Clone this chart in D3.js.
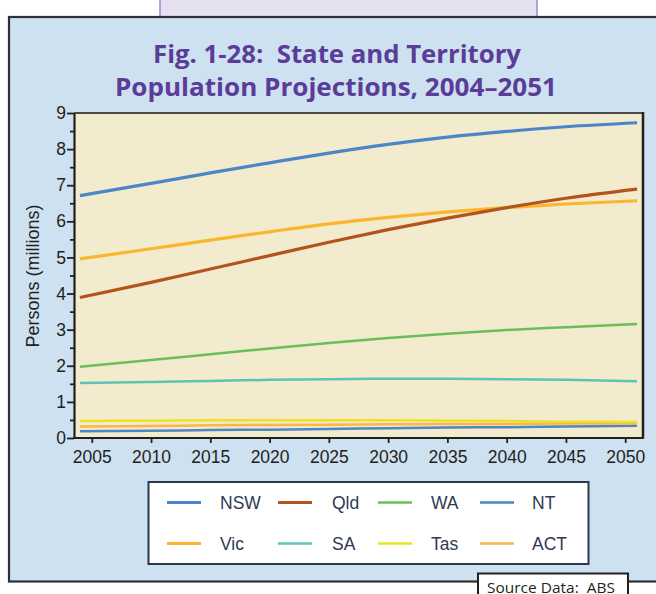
<!DOCTYPE html>
<html lang="en">
<head>
<meta charset="utf-8">
<title>State and Territory Population Projections</title>
<script src="https://cdn.jsdelivr.net/npm/d3@7"></script>
<style>
  body { margin: 0; background: #ffffff; }
  svg { display: block; }
  text { white-space: pre; }
</style>
</head>
<body>
<script>
// Data (persons, millions)
var years = [2004, 2010, 2015, 2020, 2025, 2030, 2035, 2040, 2045, 2051];
var nsw = [6.71, 7.05, 7.34, 7.62, 7.89, 8.13, 8.33, 8.49, 8.62, 8.73];
var vic = [4.96, 5.24, 5.48, 5.71, 5.93, 6.11, 6.26, 6.38, 6.48, 6.57];
var qld = [3.89, 4.31, 4.68, 5.05, 5.42, 5.77, 6.09, 6.38, 6.64, 6.89];
var wa  = [1.97, 2.16, 2.32, 2.48, 2.63, 2.77, 2.89, 2.99, 3.07, 3.16];
var sa  = [1.52, 1.55, 1.58, 1.61, 1.63, 1.64, 1.64, 1.63, 1.61, 1.57];
var tas = [0.47, 0.48, 0.49, 0.49, 0.49, 0.49, 0.48, 0.47, 0.45, 0.44];
var act = [0.32, 0.33, 0.35, 0.36, 0.37, 0.38, 0.39, 0.39, 0.40, 0.40];
var nt  = [0.19, 0.20, 0.22, 0.23, 0.25, 0.27, 0.29, 0.30, 0.32, 0.34];

var xTicks = [2005, 2010, 2015, 2020, 2025, 2030, 2035, 2040, 2045, 2050];
var yTicks = [0, 1, 2, 3, 4, 5, 6, 7, 8, 9];

// legend order: row 1 then row 2
var series = [
  { name: "NSW", values: nsw, color: "#4a86c8", width: 3.2 },
  { name: "Qld", values: qld, color: "#b5531c", width: 3.2 },
  { name: "WA",  values: wa,  color: "#6abf5b", width: 2.5 },
  { name: "NT",  values: nt,  color: "#4a86c8", width: 2.5 },
  { name: "Vic", values: vic, color: "#fbb62e", width: 3.2 },
  { name: "SA",  values: sa,  color: "#5cc4b7", width: 2.5 },
  { name: "Tas", values: tas, color: "#eae224", width: 2.5 },
  { name: "ACT", values: act, color: "#fdb548", width: 2.5 }
];
// drawing order (back to front)
var drawOrder = ["NT", "ACT", "Tas", "SA", "WA", "NSW", "Vic", "Qld"];

var w = 656, h = 594;
var plot = { left: 74, right: 643, top: 113, bottom: 438 };

var svg = d3.select("body").append("svg")
  .attr("width", w)
  .attr("height", h);

// lavender tab at the top
svg.append("rect")
  .attr("x", 160).attr("y", -5).attr("width", 377).attr("height", 22)
  .attr("fill", "#e6e1f1").attr("stroke", "#9d88c6").attr("stroke-width", 1.5);

// outer blue panel
svg.append("rect")
  .attr("x", 9).attr("y", 17).attr("width", 660).attr("height", 564.5)
  .attr("fill", "#cde1f1").attr("stroke", "#2f2f33").attr("stroke-width", 2.2);

// title
var title = svg.append("g")
  .attr("font-family", "'Open Sans', sans-serif")
  .attr("font-weight", "bold")
  .attr("font-size", "25px")
  .attr("fill", "#5b3c98")
  .attr("text-anchor", "middle");
title.append("text").attr("x", 337).attr("y", 63)
  .attr("textLength", 368).attr("lengthAdjust", "spacingAndGlyphs")
  .text("Fig. 1-28:  State and Territory");
title.append("text").attr("x", 336).attr("y", 96)
  .attr("textLength", 442).attr("lengthAdjust", "spacingAndGlyphs")
  .text("Population Projections, 2004\u20132051");

// scales
var xScale = d3.scaleLinear()
  .domain([2003.5, 2051.5])
  .range([plot.left, plot.right]);

var yScale = d3.scaleLinear()
  .domain([0, 9])
  .range([plot.bottom, plot.top]);

// plot background
svg.append("rect")
  .attr("x", plot.left).attr("y", plot.top)
  .attr("width", plot.right - plot.left).attr("height", plot.bottom - plot.top)
  .attr("fill", "#f2ebcd");

// lines
var line = d3.line()
  .x(function(d) { return xScale(d[0]); })
  .y(function(d) { return yScale(d[1]); })
  .curve(d3.curveMonotoneX);

drawOrder.forEach(function(name) {
  var s = series.find(function(d) { return d.name === name; });
  svg.append("path")
    .datum(years.map(function(yr, i) { return [yr, s.values[i]]; }))
    .attr("d", line)
    .attr("fill", "none")
    .attr("stroke", s.color)
    .attr("stroke-width", s.width);
});

// top and right frame
svg.append("line")
  .attr("x1", plot.left).attr("x2", plot.right)
  .attr("y1", plot.top).attr("y2", plot.top)
  .attr("stroke", "#4a4a4a").attr("stroke-width", 2);
svg.append("line")
  .attr("x1", plot.right).attr("x2", plot.right)
  .attr("y1", plot.top - 1).attr("y2", plot.bottom)
  .attr("stroke", "#231f20").attr("stroke-width", 2.5);

// y axis minor ticks (halves)
var yMinor = d3.axisLeft(yScale)
  .tickValues(d3.range(0.5, 9, 1))
  .tickSize(4)
  .tickFormat("");
svg.append("g")
  .attr("transform", "translate(" + plot.left + ",0)")
  .call(yMinor)
  .call(function(g) { g.select(".domain").remove(); })
  .selectAll("line").attr("stroke", "#231f20").attr("stroke-width", 1.8);

// y axis
var yAxis = d3.axisLeft(yScale)
  .tickValues(yTicks)
  .tickSize(7)
  .tickSizeOuter(0)
  .tickPadding(1)
  .tickFormat(d3.format("d"));
var gy = svg.append("g")
  .attr("transform", "translate(" + plot.left + ",0)")
  .call(yAxis);
gy.select(".domain").attr("stroke", "#231f20").attr("stroke-width", 2.2);
gy.selectAll(".tick line").attr("stroke", "#231f20").attr("stroke-width", 1.8);
gy.selectAll(".tick text")
  .attr("font-family", "'Liberation Sans', Arial, sans-serif")
  .attr("font-size", "17.5px")
  .attr("fill", "#231f20");

// x axis
var xAxis = d3.axisBottom(xScale)
  .tickValues(xTicks)
  .tickSize(5)
  .tickSizeOuter(0)
  .tickPadding(8)
  .tickFormat(d3.format("d"));
var gx = svg.append("g")
  .attr("transform", "translate(0," + plot.bottom + ")")
  .call(xAxis);
gx.select(".domain").attr("stroke", "#231f20").attr("stroke-width", 2.2)
  .attr("d", "M" + (plot.left - 1) + ",0H" + (plot.right + 1));
gx.selectAll(".tick line").attr("stroke", "#231f20").attr("stroke-width", 1.8);
gx.selectAll(".tick text")
  .attr("font-family", "'Liberation Sans', Arial, sans-serif")
  .attr("font-size", "17.5px")
  .attr("fill", "#231f20");

// y axis title
svg.append("text")
  .attr("transform", "translate(39,276) rotate(-90)")
  .attr("text-anchor", "middle")
  .attr("font-family", "'Liberation Sans', Arial, sans-serif")
  .attr("font-size", "18px")
  .attr("fill", "#231f20")
  .text("Persons (millions)");

// legend
var legend = svg.append("g");
legend.append("rect")
  .attr("x", 148.5).attr("y", 482).attr("width", 440).attr("height", 82)
  .attr("fill", "#ffffff").attr("stroke", "#2d3850").attr("stroke-width", 2);

var colX = [167, 278, 378, 480];
var textX = [220, 332, 431, 532];
var rowY = [502.5, 543.5];

var items = legend.selectAll("g.item")
  .data(series)
  .enter()
  .append("g")
  .attr("class", "item");

items.append("line")
  .attr("x1", function(d, i) { return colX[i % 4]; })
  .attr("x2", function(d, i) { return colX[i % 4] + 34; })
  .attr("y1", function(d, i) { return rowY[Math.floor(i / 4)]; })
  .attr("y2", function(d, i) { return rowY[Math.floor(i / 4)]; })
  .attr("stroke", function(d) { return d.color; })
  .attr("stroke-width", function(d) { return d.width; });

items.append("text")
  .attr("x", function(d, i) { return textX[i % 4]; })
  .attr("y", function(d, i) { return rowY[Math.floor(i / 4)] + 6.5; })
  .attr("font-family", "'Liberation Sans', Arial, sans-serif")
  .attr("font-size", "17.5px")
  .attr("fill", "#2e3a52")
  .text(function(d) { return d.name; });

// source box
svg.append("rect")
  .attr("x", 478).attr("y", 573.5).attr("width", 150).attr("height", 40)
  .attr("fill", "#ffffff").attr("stroke", "#231f20").attr("stroke-width", 2);
svg.append("text")
  .attr("x", 487).attr("y", 593)
  .attr("font-family", "'Open Sans', sans-serif")
  .attr("font-size", "15px")
  .attr("fill", "#231f20")
  .attr("textLength", 128).attr("lengthAdjust", "spacingAndGlyphs")
  .text("Source Data:  ABS");
</script>
</body>
</html>
